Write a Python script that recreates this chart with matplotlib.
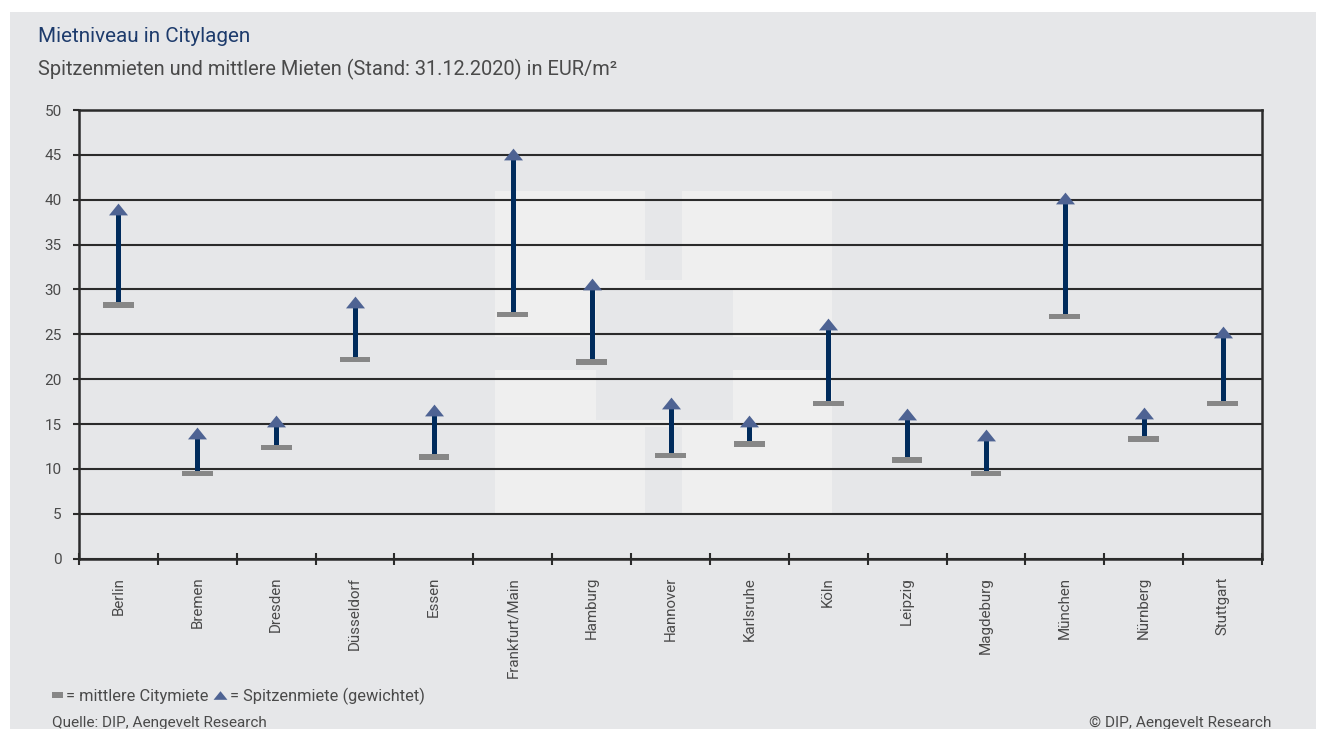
import numpy as np
import matplotlib.pyplot as plt
from matplotlib.patches import Rectangle
from matplotlib.lines import Line2D

plt.rcParams['font.family'] = ['Roboto', 'DejaVu Sans']

# Daten (EUR/m², Stand 31.12.2020)
staedte = ['Berlin', 'Bremen', 'Dresden', 'Düsseldorf', 'Essen', 'Frankfurt/Main',
           'Hamburg', 'Hannover', 'Karlsruhe', 'Köln', 'Leipzig', 'Magdeburg',
           'München', 'Nürnberg', 'Stuttgart']
spitzenmiete = [39.0, 14.0, 15.3, 28.6, 16.6, 45.1, 30.6, 17.3, 15.3, 26.2,
                16.1, 13.8, 40.2, 16.2, 25.3]
mittlere_miete = [28.3, 9.5, 12.4, 22.2, 11.3, 27.2, 21.9, 11.5, 12.8, 17.3,
                  11.0, 9.5, 27.0, 13.3, 17.3]
y_ticks = list(range(0, 51, 5))

W, H = 1319, 729
bg = '#e6e7e9'
hell = '#efefef'
navy = '#002b5c'
blau = '#4e6393'
grau = '#878787'
linie = '#2b2b2b'
text_grau = '#4a4a4a'

fig = plt.figure(figsize=(W / 100, H / 100), dpi=100, facecolor='white')


def px_rect(x0, y0, x1, y1, color, z):
    # Rechteck in Pixelkoordinaten (oben links = 0,0)
    r = Rectangle((x0 / W, 1 - y1 / H), (x1 - x0) / W, (y1 - y0) / H,
                  transform=fig.transFigure, facecolor=color, edgecolor='none', zorder=z)
    fig.patches.append(r)


# grauer Hintergrund
px_rect(10, 12, 1316, 740, bg, -3)
# Wasserzeichen (Logo)
for x0, y0, x1, y1 in [(495, 191, 645, 337), (682, 191, 832, 337),
                       (495, 370, 645, 513), (682, 370, 832, 513),
                       (645, 280, 682, 290), (645, 420, 682, 427)]:
    px_rect(x0, y0, x1, y1, hell, -2)
px_rect(596, 290, 733, 420, bg, -1)

ax = fig.add_axes([79 / W, 1 - 558.7 / H, (1262 - 79) / W, (558.7 - 110) / H])
ax.set_facecolor('none')

x = np.arange(len(staedte))
mittel = np.array(mittlere_miete)
spitze = np.array(spitzenmiete)

ax.vlines(x, mittel, spitze, color=navy, linewidth=3.6, zorder=3)
ax.bar(x, 0.64, bottom=mittel - 0.32, width=0.39, color=grau, zorder=4)
tri = [(-1, -0.62), (1, -0.62), (0, 0.62)]
ax.plot(x, spitze, linestyle='none', marker=tri, markersize=13.7,
        color=blau, markeredgecolor='none', zorder=5)

ax.set_xlim(-0.5, len(staedte) - 0.5)
ax.set_ylim(0, 50)
ax.set_yticks(y_ticks)
ax.yaxis.grid(True, color=linie, linewidth=1.5)
ax.set_axisbelow(True)

for s in ax.spines.values():
    s.set_color(linie)
    s.set_linewidth(1.8)

ax.set_xticks(x)
ax.set_xticklabels(staedte, rotation=90, va='top', ha='center')
ax.set_xticks(np.arange(-0.5, len(staedte)), minor=True)
ax.tick_params(axis='x', which='major', length=0, pad=13, labelsize=10.9,
               labelcolor=text_grau)
ax.tick_params(axis='x', which='minor', direction='inout', length=8,
               width=1.5, color=linie)
ax.tick_params(axis='y', length=4.5, width=1.5, color=linie, pad=8,
               labelsize=11, labelcolor=text_grau)

# Titel
fig.text(38 / W, 1 - 36 / H, 'Mietniveau in Citylagen', fontsize=14.9,
         color='#1d3b6c', va='center', ha='left')
fig.text(38 / W, 1 - 69 / H,
         'Spitzenmieten und mittlere Mieten (Stand: 31.12.2020) in EUR/m²',
         fontsize=14.4, color=text_grau, va='center', ha='left')

# Legende
px_rect(52, 692, 63, 698, grau, 2)
fig.text(66 / W, 1 - 696 / H, '= mittlere Citymiete', fontsize=11.8,
         color=text_grau, va='center', ha='left')
fig.add_artist(Line2D([219.5 / W], [1 - 695 / H], transform=fig.transFigure,
                      marker=tri, markersize=10, color=blau, markeredgecolor='none',
                      linestyle='none'))
fig.text(230 / W, 1 - 696 / H, '= Spitzenmiete (gewichtet)', fontsize=11.8,
         color=text_grau, va='center', ha='left')

# Quelle
fig.text(52 / W, 1 - 723 / H, 'Quelle: DIP, Aengevelt Research', fontsize=11,
         color=text_grau, va='center', ha='left')
fig.text(1271 / W, 1 - 723 / H, '© DIP, Aengevelt Research', fontsize=11.1,
         color=text_grau, va='center', ha='right')

fig.savefig('out.png', dpi=100, facecolor='white')
